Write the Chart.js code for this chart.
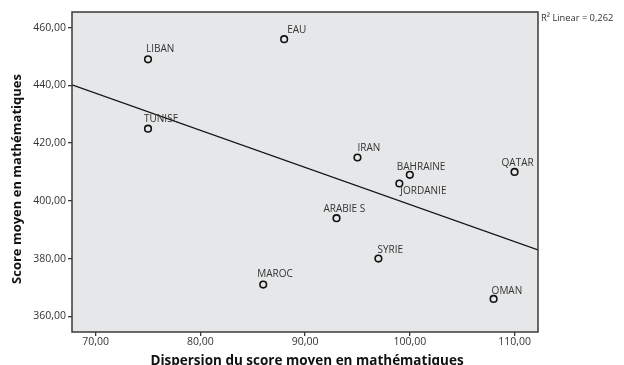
<!DOCTYPE html>
<html><head><meta charset="utf-8">
<script src="https://cdn.jsdelivr.net/npm/chart.js@4.4.1/dist/chart.umd.min.js"></script>
<style>html,body{margin:0;padding:0;background:#fff}#wrap{width:624px;height:365px}</style>
</head><body><div id="wrap"><canvas id="c" width="624" height="365"></canvas></div>
<script>
const countries = ['LIBAN','EAU','TUNISE','MAROC','IRAN','BAHRAINE','QATAR','JORDANIE','ARABIE S','SYRIE','OMAN'];
const dispersion = [75, 88, 75, 86, 95, 100, 110, 99, 93, 97, 108];
const scores = [449, 456, 425, 371, 415, 409, 410, 406, 394, 380, 366];
const xTicks = [70, 80, 90, 100, 110];
const yTicks = [360, 380, 400, 420, 440, 460];
const xTitle = 'Dispersion du score moyen en mathématiques';
const yTitle = 'Score moyen en mathématiques';

// where each country name sits relative to its marker (px)
const labelNudge = [[-2,-10],[3,-9],[-4,-9],[-6,-10],[0,-9],[-13,-8],[-13,-9],[1,8],[-13,-9],[-1,-8],[-2,-8]];

const X_MIN = 67.74, X_MAX = 112.24, Y_MIN = 354.56, Y_MAX = 465.4;

// least-squares fit of score on dispersion
const n = dispersion.length;
const mx = dispersion.reduce((a, b) => a + b, 0) / n;
const my = scores.reduce((a, b) => a + b, 0) / n;
let sxy = 0, sxx = 0, syy = 0;
for (let i = 0; i < n; i++) {
  const dx = dispersion[i] - mx, dy = scores[i] - my;
  sxy += dx * dy; sxx += dx * dx; syy += dy * dy;
}
const slope = sxy / sxx;
const intercept = my - slope * mx;
const r2 = (sxy * sxy) / (sxx * syy);

const fmt = v => Number(v).toFixed(2).replace('.', ',');
const TXT = '#333';

const decor = {
  id: 'decor',
  beforeDatasetsDraw(chart) {
    const { ctx, chartArea: a } = chart;
    ctx.save();
    ctx.fillStyle = '#e6e7e8';
    ctx.fillRect(a.left, a.top, a.right - a.left, a.bottom - a.top);
    ctx.restore();
  },
  afterDatasetsDraw(chart) {
    const { ctx, chartArea: a } = chart;
    const meta = chart.getDatasetMeta(1);
    ctx.save();
    ctx.font = '10px "Open Sans"';
    ctx.fillStyle = TXT;
    ctx.textAlign = 'left';
    ctx.textBaseline = 'middle';
    meta.data.forEach((pt, i) => {
      ctx.fillText(countries[i], pt.x + labelNudge[i][0], pt.y + labelNudge[i][1]);
    });
    // frame round the plot area
    ctx.strokeStyle = '#3a3a3a';
    ctx.lineWidth = 1.5;
    ctx.strokeRect(a.left, a.top, a.right - a.left, a.bottom - a.top);
    // axis titles
    ctx.fillStyle = '#111';
    ctx.font = 'bold 13.5px "Open Sans"';
    ctx.textAlign = 'center';
    ctx.fillText(xTitle, (a.left + a.right) / 2 + 2, 361);
    ctx.translate(17.5, 179);
    ctx.rotate(-Math.PI / 2);
    ctx.font = 'bold 13px "Open Sans"';
    ctx.fillText(yTitle, 0, 0);
    ctx.setTransform(1, 0, 0, 1, 0, 0);
    // fit legend
    ctx.font = '9.3px "Open Sans"';
    ctx.fillStyle = TXT;
    ctx.textAlign = 'left';
    ctx.fillText('R² Linear = ' + r2.toFixed(3).replace('.', ','), a.right + 3, 18);
    ctx.restore();
  }
};

new Chart(document.getElementById('c'), {
  type: 'scatter',
  data: {
    datasets: [
      {
        type: 'line',
        data: [X_MIN, X_MAX].map(x => ({ x, y: intercept + slope * x })),
        borderColor: '#111',
        borderWidth: 1.3,
        pointRadius: 0,
        fill: false,
        order: 2
      },
      {
        data: dispersion.map((x, i) => ({ x, y: scores[i] })),
        pointStyle: 'circle',
        pointRadius: 3.3,
        borderWidth: 1.6,
        borderColor: '#111',
        backgroundColor: 'rgba(0,0,0,0)',
        order: 1
      }
    ]
  },
  options: {
    responsive: false,
    animation: false,
    devicePixelRatio: 1,
    layout: { padding: { top: 12, right: 86, left: 0, bottom: 0 } },
    plugins: { legend: { display: false }, tooltip: { enabled: false } },
    scales: {
      x: {
        type: 'linear',
        min: X_MIN, max: X_MAX,
        afterFit(s) { s.height = 33; },
        afterBuildTicks(s) { s.ticks = xTicks.map(v => ({ value: v })); },
        ticks: { callback: fmt, color: TXT, font: { family: 'Open Sans', size: 10.5 }, padding: 0, maxRotation: 0 },
        grid: { drawOnChartArea: false, drawTicks: true, tickLength: 4, color: '#3a3a3a', lineWidth: 1.3 },
        border: { display: false }
      },
      y: {
        type: 'linear',
        min: Y_MIN, max: Y_MAX,
        afterFit(s) { s.width = 72; },
        afterBuildTicks(s) { s.ticks = yTicks.map(v => ({ value: v })); },
        ticks: { callback: fmt, color: TXT, font: { family: 'Open Sans', size: 10.5 }, padding: 2 },
        grid: { drawOnChartArea: false, drawTicks: true, tickLength: 4, color: '#3a3a3a', lineWidth: 1.3 },
        border: { display: false }
      }
    }
  },
  plugins: [decor]
});
</script>
</body></html>
